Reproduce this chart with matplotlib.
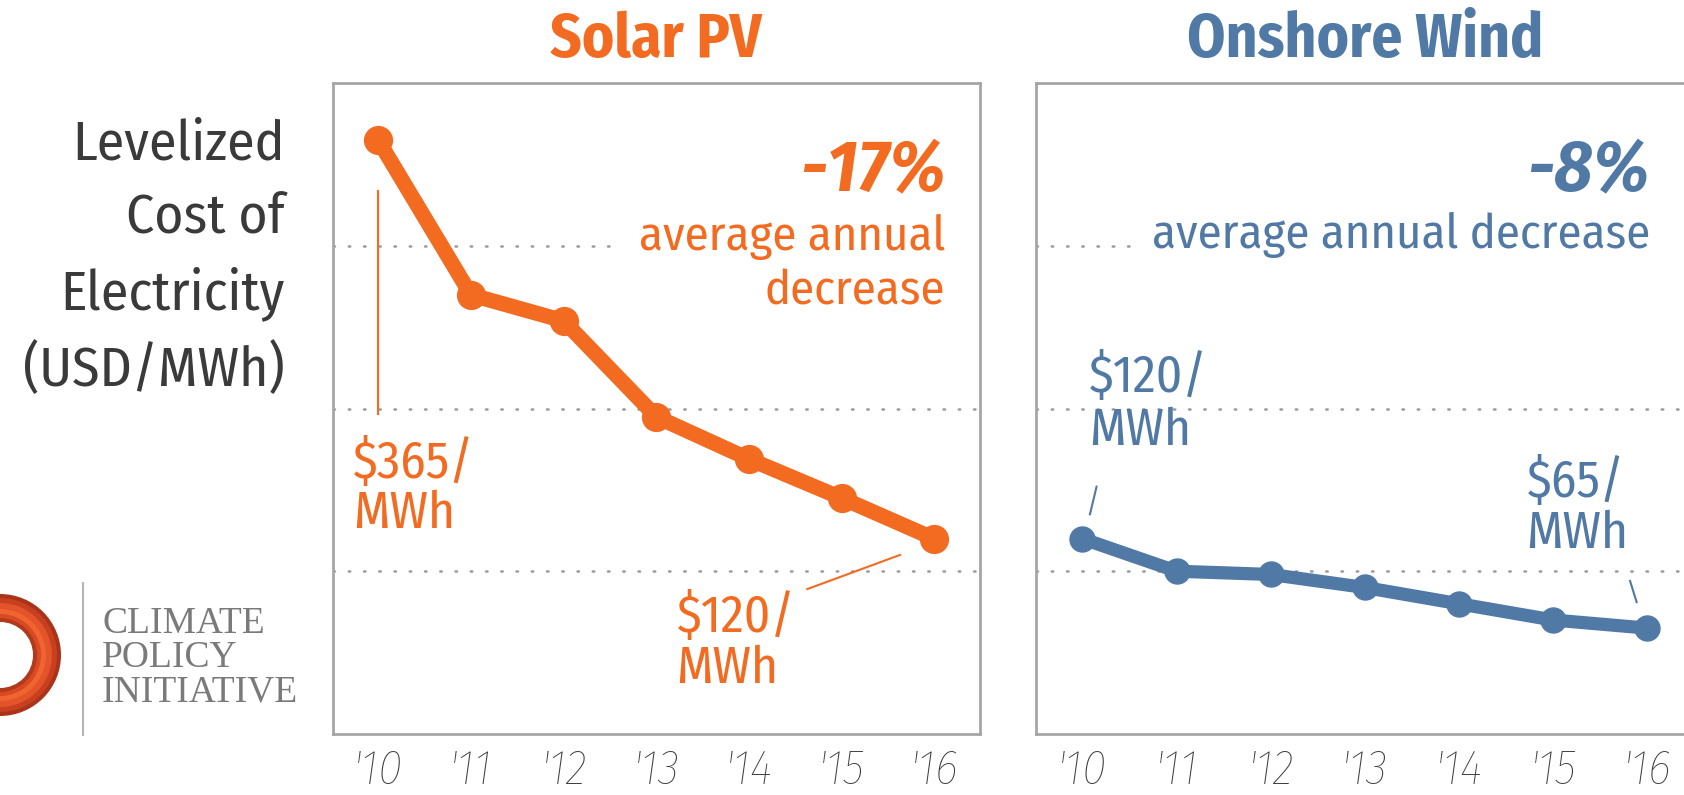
import matplotlib
matplotlib.use("Agg")
import matplotlib.pyplot as plt
from matplotlib import font_manager as fm
from matplotlib.patches import Circle

years = ["'10", "'11", "'12", "'13", "'14", "'15", "'16"]
solar = [365, 270, 254, 195, 169, 145, 120]
wind = [120, 100, 98, 90, 80, 70, 65]
grid_vals = [100, 200, 300]

ORANGE = "#f26b21"
BLUE = "#5179a6"
GRAY = "#3a3a3a"
FRAME = "#a6a6a6"


def pick(cands, default="DejaVu Sans"):
    avail = {f.name for f in fm.fontManager.ttflist}
    for c in cands:
        if c in avail:
            return c
    return default


NARROW = pick(["Fira Sans Condensed", "PT Sans Narrow", "Open Sans Condensed",
               "Noto Sans Condensed", "Roboto Condensed", "Asap Condensed",
               "Encode Sans Condensed", "IBM Plex Sans Condensed",
               "Archivo Narrow", "Ubuntu Condensed", "Liberation Sans Narrow"])
SERIF = pick(["Liberation Serif", "DejaVu Serif"], "serif")

plt.rcParams["font.family"] = [NARROW, "DejaVu Sans"]

fig = plt.figure(figsize=(16.84, 7.95), dpi=100)
ax1 = fig.add_axes([0.1977, 0.077, 0.384, 0.818])
ax2 = fig.add_axes([0.6154, 0.077, 0.39, 0.818])

x = list(range(len(years)))


def setup(ax, title, color, gap_end):
    ax.set_xlim(-0.49, 6.49)
    ax.set_ylim(0, 400)
    ax.set_yticks([])
    ax.set_xticks(x)
    ax.set_xticklabels(years, style="italic", fontsize=35, color="#3f3f3f",
                       fontweight="light")
    ax.tick_params(axis="x", length=0, pad=10)
    for s in ax.spines.values():
        s.set_color(FRAME)
        s.set_linewidth(2)
    for g in grid_vals:
        xmax = gap_end if g == 300 else 6.49
        ax.plot([-0.49, xmax], [g, g], color="#9a9a9a", lw=1.8,
                ls=(0, (0.6, 5.5)), dash_capstyle="round", zorder=1)
    ax.set_title(title, color=color, fontsize=44, fontweight="bold", pad=19)


setup(ax1, "Solar PV", ORANGE, 2.6)
setup(ax2, "Onshore Wind", BLUE, 0.6)

ax1.plot(x, solar, color=ORANGE, lw=11, marker="o", ms=20, zorder=3,
         solid_capstyle="round", solid_joinstyle="round")
ax2.plot(x, wind, color=BLUE, lw=9.5, marker="o", ms=18, zorder=3,
         solid_capstyle="round", solid_joinstyle="round")

# headline annotations
ax1.text(6.12, 346, "-17%", color=ORANGE, fontsize=53, fontweight="bold",
         style="italic", ha="right", va="center")
ax1.text(6.12, 289, "average annual\ndecrease", color=ORANGE, fontsize=35,
         ha="right", va="center", linespacing=1.22)
ax2.text(6.03, 346, "-8%", color=BLUE, fontsize=53, fontweight="bold",
         style="italic", ha="right", va="center")
ax2.text(6.03, 307, "average annual decrease", color=BLUE, fontsize=35,
         ha="right", va="center")

# value callouts
ax1.plot([0, 0], [197, 334], color=ORANGE, lw=1.5)
ax1.text(-0.27, 151, "$365/\nMWh", color=ORANGE, fontsize=37, ha="left",
         va="center", linespacing=1.02)
ax1.plot([4.63, 5.63], [89, 110], color=ORANGE, lw=1.5)
ax1.text(3.22, 56, "$120/\nMWh", color=ORANGE, fontsize=37, ha="left",
         va="center", linespacing=1.02)

ax2.plot([0.08, 0.15], [135, 152], color=BLUE, lw=1.5)
ax2.text(0.07, 203, "$120/\nMWh", color=BLUE, fontsize=37, ha="left",
         va="center", linespacing=1.1)
ax2.plot([5.82, 5.89], [94, 81], color=BLUE, lw=1.5)
ax2.text(4.72, 139, "$65/\nMWh", color=BLUE, fontsize=37, ha="left",
         va="center", linespacing=1.05)

# y label
fig.text(0.169, 0.676, "Levelized\nCost of\nElectricity\n(USD/MWh)", color=GRAY,
         fontsize=40, ha="right", va="center", linespacing=1.5)

# logo
lg = fig.add_axes([0, 0, 1, 1], zorder=-1)
lg.set_xlim(0, 1684)
lg.set_ylim(795, 0)
lg.axis("off")
rings = [(61, "#a9341a"), (57, "#c8401f"), (52, "#e4542a"), (46, "#ef6430"),
         (41, "#d94a24"), (37, "#b23a1c"), (33, "white")]
for r, c in rings:
    lg.add_patch(Circle((0, 655), r, color=c, lw=0))
lg.plot([83, 83], [583, 735], color="#b5b5b5", lw=1.5)
lg.text(102, 658, "CLIMATE\nPOLICY\nINITIATIVE", color="#7a7a7a", fontsize=27,
        family=[SERIF, "DejaVu Serif"], ha="left", va="center",
        linespacing=0.98)

fig.savefig("out.png", dpi=100, facecolor="white")
